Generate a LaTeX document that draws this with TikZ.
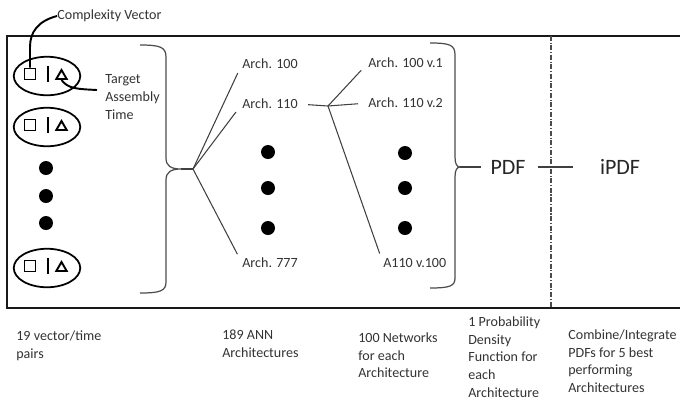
\documentclass[tikz,border=0pt]{standalone}
\usepackage{fontspec}
\setmainfont{Carlito}
\usetikzlibrary{shapes.geometric,positioning}

\begin{document}
\begin{tikzpicture}[
    x=0.02cm, y=-0.02cm,
    txt/.style={font=\fontsize{8}{10.2}\selectfont, text=black!80, inner sep=0pt, align=left},
    big/.style={font=\fontsize{12.5}{15}\selectfont, text=black!85, inner sep=0pt},
    oval/.style={ellipse, draw=black, line width=1pt, minimum width=1.33cm, minimum height=0.77cm, inner sep=0pt},
    sqr/.style={rectangle, draw=black, line width=1.1pt, minimum size=0.22cm, inner sep=0pt},
    tri/.style={regular polygon, regular polygon sides=3, draw=black, line width=1.1pt, minimum size=0.24cm, inner sep=0pt},
    dot/.style={circle, fill=black, minimum size=0.28cm, inner sep=0pt},
    link/.style={draw=black!75, line width=0.6pt},
    pointer/.style={draw=black, line width=1.1pt},
    brc/.style={draw=black!70, line width=0.7pt},
    frame/.style={draw=black!90, line width=1.2pt},
    splitline/.style={draw=black!70, line width=0.6pt, dash pattern=on 2.8pt off 1pt on 0.6pt off 1pt}
]
    \useasboundingbox (0,0) rectangle (680,407);

    \draw [frame] (7,36) rectangle (684,308);
    \draw [splitline] (551,36) -- (551,308);

    % vector/time pairs
    \foreach \y [count=\i] in {74,125,266} {
        \node [oval] (e\i) at (47,\y+2) {};
        \node [sqr] (sq\i) at (30,\y) {};
        \draw [line width=0.9pt] (48,\y-8) -- (48,\y+8);
        \node [tri] (tr\i) at (61.5,\y+2) {};
    }
    \foreach \y [count=\i] in {168,196,223}
        \node [dot] (d\i) at (46,\y) {};

    \node [txt, anchor=west] (cv) at (57,16) {Complexity Vector};
    \node [txt, anchor=north west] (ta) at (105,74) {Target\\Assembly\\Time};
    \coordinate (tat) at (97,90);
    \draw [pointer] (cv.west) .. controls (38,21) and (30,32) .. (30,47) -- (sq1.north);
    \draw [pointer] (tr1.south) .. controls (68,89) and (78,89) .. (tat);

    % architectures
    \node [txt, anchor=west] (a100) at (242,64) {Arch. 100};
    \node [txt, anchor=west] (a110) at (242,104) {Arch. 110};
    \node [txt, anchor=west] (a777) at (242,263) {Arch. 777};
    \foreach \y [count=\i] in {152,188,228}
        \node [dot] (ad\i) at (268,\y) {};

    \coordinate (f1) at (193,169);
    \draw [brc] (140,45) .. controls (160,45) and (166,47) .. (166,57) -- (166,158)
        .. controls (166,166) and (171,169) .. (181,169)
        .. controls (171,169) and (166,172) .. (166,180) -- (166,282)
        .. controls (166,291) and (160,293) .. (140,293);
    \draw [link] (181,169) -- (f1);
    \draw [link, shorten >=5.7pt] (f1) -- (a100.west);
    \draw [link, shorten >=5.7pt] (f1) -- (a110.west);
    \draw [link, shorten >=5.7pt] (f1) -- (a777.west);

    % networks for one architecture
    \node [txt, anchor=west] (v1) at (368,63) {Arch. 100 v.1};
    \node [txt, anchor=west] (v2) at (368,103) {Arch. 110 v.2};
    \node [txt, anchor=west] (v100) at (383,263) {A110 v.100};
    \foreach \y [count=\i] in {153,188,228}
        \node [dot] (vd\i) at (405,\y) {};

    \coordinate (f2) at (328,106);
    \draw [link, shorten <=5.7pt] (a110.east) -- (f2);
    \draw [link, shorten >=5.7pt] (f2) -- (v1.west);
    \draw [link, shorten >=5.7pt] (f2) -- (v2.west);
    \draw [link, shorten >=5.7pt] (f2) -- (v100.west);

    % density functions
    \node [big] (pdf) at (508,167) {PDF};
    \node [big] (ipdf) at (620,167) {iPDF};
    \coordinate (b2) at (460,167);
    \draw [brc] (430,43) .. controls (450,43) and (455,45) .. (455,55) -- (455,157)
        .. controls (455,164) and (457,167) .. (b2)
        .. controls (457,167) and (455,170) .. (455,177) -- (455,278)
        .. controls (455,286) and (450,288) .. (430,288);
    \draw [link, shorten >=5pt] (b2) -- (pdf.west);
    \draw [link, shorten <=6.8pt, shorten >=15.3pt] (pdf.east) -- (ipdf.west);

    % captions
    \node [txt, anchor=north west] (c1) at (16,330) {19 vector/time\\pairs};
    \node [txt, anchor=north west] (c2) at (222,330) {189 ANN\\Architectures};
    \node [txt, anchor=north west] (c3) at (358,332) {100 Networks\\for each\\Architecture};
    \node [txt, anchor=north west] (c4) at (468,316) {1 Probability\\Density\\Function for\\each\\Architecture};
    \node [txt, anchor=north west] (c5) at (568,329) {Combine/Integrate\\PDFs for 5 best\\performing\\Architectures};
\end{tikzpicture}
\end{document}
